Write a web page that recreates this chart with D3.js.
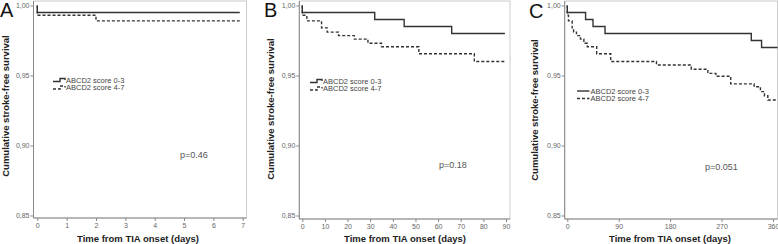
<!DOCTYPE html>
<html lang="en">
<head>
<meta charset="UTF-8">
<title>Stroke-free survival by ABCD2 score</title>
<script src="https://d3js.org/d3.v7.min.js"></script>
<style>
  body { margin: 0; background: #fff; }
  svg { display: block; font-family: "Liberation Sans", Arial, sans-serif; }
  .tick text { fill: #666; font-size: 7px; }
  .tick line, .domain { stroke: #888; }
  .km { fill: none; stroke: #333; stroke-width: 1.4; }
  .dash { stroke-dasharray: 3 2; }
  .lab { font-weight: bold; font-size: 9.5px; fill: #222; }
  .leg { font-size: 7.5px; fill: #444; }
  .pval { font-size: 9px; fill: #555; }
</style>
</head>
<body>
<svg width="778" height="244"></svg>
<script>
// survival steps: time (days) and survival after that time
const tA03 = [0, 0, 6.9];
const sA03 = [1, 0.995, 0.995];
const tA47 = [0, 0, 2, 6.9];
const sA47 = [1, 0.993, 0.989, 0.989];

const tB03 = [0, 0, 32, 45, 66, 89.5];
const sB03 = [1, 0.995, 0.990, 0.985, 0.980, 0.980];
const tB47 = [0, 0, 2, 8.5, 11, 16, 23, 29, 35, 51.5, 76, 89.5];
const sB47 = [1, 0.993, 0.989, 0.984, 0.981, 0.9785, 0.976, 0.973, 0.9705, 0.9655, 0.96, 0.96];

const tC03 = [0, 0, 32, 45, 66, 322, 340, 368];
const sC03 = [1, 0.995, 0.990, 0.985, 0.980, 0.975, 0.970, 0.970];
const tC47 = [0, 0, 2, 8.5, 11, 16, 23, 29, 35, 51.5, 76, 156, 217, 246, 260, 286, 327, 338, 345, 351, 368];
const sC47 = [1, 0.993, 0.989, 0.984, 0.981, 0.9785, 0.976, 0.973, 0.9705, 0.9655, 0.96, 0.9575, 0.9545, 0.9515, 0.9495, 0.944, 0.942, 0.9385, 0.9355, 0.9325, 0.9325];

const yTicks = [0.85, 0.90, 0.95, 1.00];
const xTicksA = [0, 1, 2, 3, 4, 5, 6, 7];
const xTicksB = [0, 10, 20, 30, 40, 50, 60, 70, 80, 90];
const xTicksC = [0, 90, 180, 270, 360];
const seriesNames = ["ABCD2 score 0-3", "ABCD2 score 4-7"];
const pValues = ["p=0.46", "p=0.18", "p=0.051"];
const letters = ["A", "B", "C"];

const svg = d3.select("svg");

// layout of each panel
const panels = [
  { letter: letters[0], axisX: 33.5, x0: 37.3, x1: 242.7, dom: [0, 7], right: 246.5, base: 218,
    ticks: xTicksA, t03: tA03, s03: sA03, t47: tA47, s47: sA47, p: pValues[0], px: 180, py: 158,
    legX: 53, legY: 80, stepLeg: true, ylabX: 6, ylabY: 106, letX: 0, letY: 17, xlabX: 138 },
  { letter: letters[1], axisX: 299.3, x0: 302.3, x1: 506, dom: [0, 90], right: 510, base: 219,
    ticks: xTicksB, t03: tB03, s03: sB03, t47: tB47, s47: sB47, p: pValues[1], px: 439, py: 168,
    legX: 310, legY: 81, stepLeg: true, ylabX: 271, ylabY: 109, letX: 264, letY: 17, xlabX: 405 },
  { letter: letters[2], axisX: 564.7, x0: 567.3, x1: 773, dom: [0, 360], right: 777.5, base: 219,
    ticks: xTicksC, t03: tC03, s03: sC03, t47: tC47, s47: sC47, p: pValues[2], px: 705, py: 170,
    legX: 577, legY: 91, stepLeg: false, ylabX: 535, ylabY: 110, letX: 529, letY: 18, xlabX: 670 }
];

const y = d3.scaleLinear().domain([0.85, 1.0]).range([215.5, 5.5]);

panels.forEach(p => {
  const g = svg.append("g");
  const x = d3.scaleLinear().domain(p.dom).range([p.x0, p.x1]);

  // light frame
  g.append("rect")
    .attr("x", p.axisX).attr("y", 1)
    .attr("width", p.right - p.axisX).attr("height", p.base - 1)
    .attr("fill", "none").attr("stroke", "#ccc").attr("stroke-width", 1);

  // axes
  const yAxis = g.append("g")
    .attr("transform", `translate(${p.axisX},0)`)
    .call(d3.axisLeft(y).tickValues(yTicks).tickSize(3).tickPadding(1)
      .tickFormat(d => d3.format(".2f")(d).replace(".", ",")));
  yAxis.select(".domain").remove();
  g.append("line").attr("x1", p.axisX).attr("x2", p.axisX).attr("y1", 1).attr("y2", p.base)
    .attr("stroke", "#888");

  const xAxis = g.append("g")
    .attr("transform", `translate(0,${p.base})`)
    .call(d3.axisBottom(x).tickValues(p.ticks).tickSize(3).tickPadding(2).tickFormat(d3.format("d")));
  xAxis.select(".domain").remove();
  g.append("line").attr("x1", p.axisX).attr("x2", p.right).attr("y1", p.base).attr("y2", p.base)
    .attr("stroke", "#888");

  // survival curves
  const line = d3.line().curve(d3.curveStepAfter).x(d => x(d[0])).y(d => y(d[1]));
  g.append("path").attr("class", "km dash").attr("d", line(d3.zip(p.t47, p.s47)));
  g.append("path").attr("class", "km").attr("d", line(d3.zip(p.t03, p.s03)));

  // legend
  [0, 1].forEach(i => {
    const ly = p.legY + i * 7.5;
    const w = p.stepLeg ? 12 : 12.5;
    const pts = p.stepLeg
      ? [[p.legX, ly + 1.5], [p.legX + 7, ly + 1.5], [p.legX + 7, ly - 1.5], [p.legX + w, ly - 1.5], [p.legX + w, ly]]
      : [[p.legX, ly], [p.legX + w, ly]];
    g.append("path").attr("class", i ? "km dash" : "km").attr("stroke-width", 1.2)
      .attr("d", d3.line()(pts));
    g.append("text").attr("class", "leg")
      .attr("x", p.legX + w + 1).attr("y", ly + 2.6).text(seriesNames[i]);
  });

  // labels
  g.append("text").attr("class", "pval").attr("x", p.px).attr("y", p.py).text(p.p);
  g.append("text").attr("class", "lab").attr("text-anchor", "middle")
    .attr("x", p.xlabX).attr("y", 242).text("Time from TIA onset (days)");
  g.append("text").attr("class", "lab").attr("text-anchor", "middle")
    .attr("transform", `translate(${p.ylabX + 3},${p.ylabY}) rotate(-90)`)
    .text("Cumulative stroke-free survival");
  g.append("text").attr("x", p.letX).attr("y", p.letY)
    .attr("font-size", 20).attr("fill", "#111").text(p.letter);
});
</script>
</body>
</html>
